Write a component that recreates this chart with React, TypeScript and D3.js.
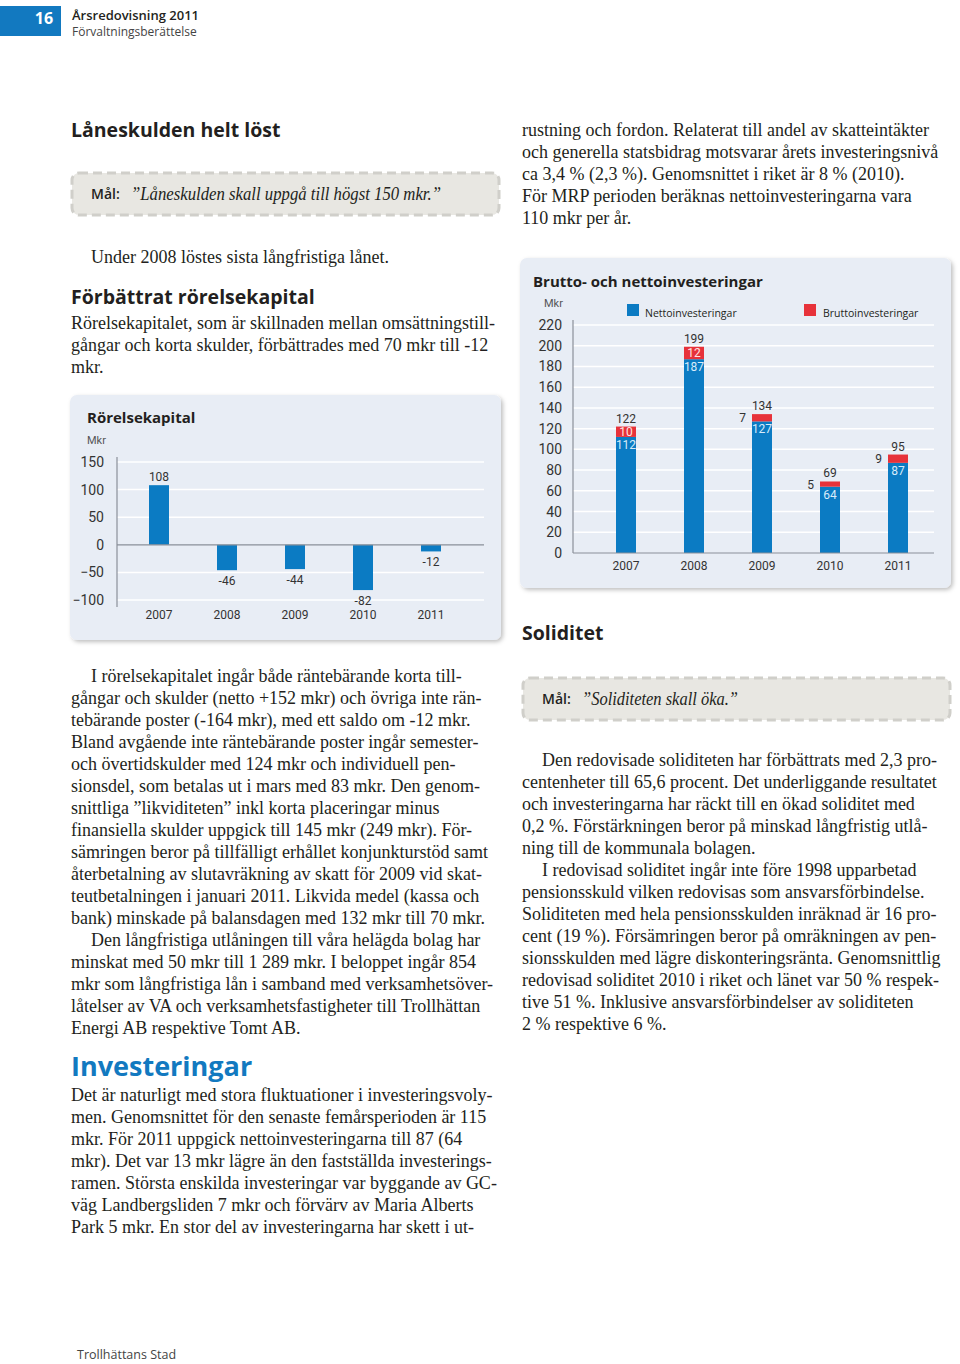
import React from "react";
import * as d3 from "d3";

// ---------- Data ----------
const rkYears = ["2007", "2008", "2009", "2010", "2011"];
const rkValues = [108, -46, -44, -82, -12];
const rkTicks = [150, 100, 50, 0, -50, -100];

const invYears = ["2007", "2008", "2009", "2010", "2011"];
const invNet = [112, 187, 127, 64, 87];
const invGrossDiff = [10, 12, 7, 5, 9];
const invGrossTotal = [122, 199, 134, 69, 95];
const invTicks = [0, 20, 40, 60, 80, 100, 120, 140, 160, 180, 200, 220];

const rightTopLines = [
  "rustning och fordon. Relaterat till andel av skatteintäkter",
  "och generella statsbidrag motsvarar årets investeringsnivå",
  "ca 3,4 % (2,3 %).  Genomsnittet i riket är 8 % (2010).",
  "För MRP perioden beräknas nettoinvesteringarna vara",
  "110 mkr per år.",
];
const rkIntroLines = [
  "Rörelsekapitalet, som är skillnaden mellan omsättningstill-",
  "gångar och korta skulder, förbättrades med 70 mkr till -12",
  "mkr.",
];
const leftBodyLines = [
  "I rörelsekapitalet ingår både räntebärande korta till-",
  "gångar och skulder (netto +152 mkr) och övriga inte rän-",
  "tebärande poster (-164 mkr), med ett saldo om -12 mkr.",
  "Bland avgående inte räntebärande poster ingår semester-",
  "och övertidskulder med 124 mkr och individuell pen-",
  "sionsdel, som betalas ut i mars med 83 mkr. Den genom-",
  "snittliga ”likviditeten” inkl korta placeringar minus",
  "finansiella skulder uppgick till 145 mkr (249 mkr). För-",
  "sämringen beror på tillfälligt erhållet konjunkturstöd samt",
  "återbetalning av slutavräkning av skatt för 2009 vid skat-",
  "teutbetalningen i januari 2011.  Likvida medel (kassa och",
  "bank) minskade på balansdagen med 132 mkr till 70 mkr.",
  "Den långfristiga utlåningen till våra helägda bolag har",
  "minskat med 50 mkr till 1 289 mkr. I beloppet ingår 854",
  "mkr som långfristiga lån i samband med verksamhetsöver-",
  "låtelser av VA och verksamhetsfastigheter till Trollhättan",
  "Energi AB respektive Tomt AB.",
];
const leftBodyIndent = [0, 12];
const invLines = [
  "Det är naturligt med stora fluktuationer i investeringsvoly-",
  "men. Genomsnittet för den senaste femårsperioden är 115",
  "mkr. För 2011 uppgick nettoinvesteringarna till 87 (64",
  "mkr). Det var 13 mkr lägre än den fastställda investerings-",
  "ramen. Största enskilda investeringar var byggande av GC-",
  "väg Landbergsliden 7 mkr och förvärv av Maria Alberts",
  "Park 5 mkr. En stor del av investeringarna har skett i ut-",
];
const solLines = [
  "Den redovisade soliditeten har förbättrats med 2,3 pro-",
  "centenheter till 65,6 procent. Det underliggande resultatet",
  "och investeringarna har räckt till en ökad soliditet med",
  "0,2 %. Förstärkningen beror på minskad långfristig utlå-",
  "ning till de kommunala bolagen.",
  "I redovisad soliditet ingår inte före 1998 upparbetad",
  "pensionsskuld vilken redovisas som ansvarsförbindelse.",
  "Soliditeten med hela pensionsskulden inräknad är 16 pro-",
  "cent (19 %). Försämringen beror på omräkningen av pen-",
  "sionsskulden med lägre diskonteringsränta. Genomsnittlig",
  "redovisad soliditet 2010 i riket och länet var 50 % respek-",
  "tive 51 %. Inklusive ansvarsförbindelser av soliditeten",
  "2 % respektive 6 %.",
];
const solIndent = [0, 5];

// ---------- Styles ----------
const SERIF = "'Liberation Serif', 'DejaVu Serif', serif";
const SANS = "'Open Sans', 'Noto Sans', sans-serif";
const COND = "'Liberation Sans Narrow', 'Roboto', 'Open Sans', sans-serif";
const BLUE = "#0b7bc3";
const RED = "#e7323a";
const TEXT = "#231f20";
const BOXBG = "#e8edf5";
const LH = 22;

function Para({ lines, x, y, indent = [] as number[], size = 18 }) {
  return (
    <g fontFamily={SERIF} fontSize={size} fill={TEXT}>
      {lines.map((l, i) => (
        <text key={i} x={x + (indent.includes(i) ? 20 : 0)} y={y + i * LH}>
          {l}
        </text>
      ))}
    </g>
  );
}

function MalBox({ x, y, w, h, quote, qLen }) {
  return (
    <g>
      <rect x={x} y={y} width={w} height={h} rx={7} fill="#e8e7e2" stroke="#d0cfca" strokeWidth={3} strokeDasharray="9 5" />
      <text x={x + 19} y={y + h / 2 + 5} fontFamily={SANS} fontWeight={600} fontSize={14} fill={TEXT}>
        Mål:
      </text>
      <text
        x={x + 59}
        y={y + h / 2 + 6}
        fontFamily={SERIF}
        fontStyle="italic"
        fontSize={19}
        fill={TEXT}
        textLength={qLen}
        lengthAdjust="spacingAndGlyphs"
      >
        {quote}
      </text>
    </g>
  );
}

function RkChart() {
  const x = d3.scaleBand().domain(rkYears).range([125, 465]);
  const y = d3.scaleLinear().domain([-100, 150]).range([600, 462]);
  const fmt = d3.format("d");
  const bw = 20;
  return (
    <g>
      <rect x={70} y={395} width={431} height={245} rx={7} fill={BOXBG} filter="url(#shadow)" />
      <text x={87} y={423} fontFamily={SANS} fontWeight={700} fontSize={15} fill={TEXT}>Rörelsekapital</text>
      <text x={87} y={444} fontFamily={COND} fontSize={11} fill="#555">Mkr</text>
      {rkTicks.map((t) => (
        <g key={t}>
          {t !== 0 && <line x1={117} x2={484} y1={y(t)} y2={y(t)} stroke="#fff" strokeWidth={1.5} />}
          <text x={104} y={y(t) + 5} textAnchor="end" fontFamily={COND} fontSize={14} fill="#333">
            {fmt(t)}
          </text>
        </g>
      ))}
      {rkValues.map((v, i) => {
        const cx = x(rkYears[i])! + x.bandwidth() / 2;
        return (
          <g key={i}>
            <rect x={cx - bw / 2} y={Math.min(y(v), y(0))} width={bw} height={Math.abs(y(v) - y(0))} fill={BLUE} />
            <text x={cx} y={v >= 0 ? y(v) - 4 : y(v) + 15} textAnchor="middle" fontFamily={COND} fontSize={12} fill="#333">
              {v}
            </text>
            <text x={cx} y={619} textAnchor="middle" fontFamily={COND} fontSize={12} fill="#333">
              {rkYears[i]}
            </text>
          </g>
        );
      })}
      <line x1={117} x2={484} y1={y(0)} y2={y(0)} stroke="#8a8f99" strokeWidth={1.2} />
      <line x1={117} x2={117} y1={457} y2={607} stroke="#8a8f99" strokeWidth={1.2} />
    </g>
  );
}

function InvChart() {
  const x = d3.scaleBand().domain(invYears).range([592, 932]);
  const y = d3.scaleLinear().domain([0, 220]).range([553, 325]);
  const bw = 20;
  return (
    <g>
      <rect x={520} y={258} width={431} height={330} rx={7} fill={BOXBG} filter="url(#shadow)" />
      <text x={533} y={287} fontFamily={SANS} fontWeight={700} fontSize={15} fill={TEXT}>Brutto- och nettoinvesteringar</text>
      <text x={544} y={307} fontFamily={COND} fontSize={11} fill="#555">Mkr</text>
      <rect x={627} y={304} width={12} height={12} fill={BLUE} />
      <text x={645} y={317} fontFamily={SANS} fontSize={10.5} fill={TEXT}>Nettoinvesteringar</text>
      <rect x={804} y={304} width={12} height={12} fill={RED} />
      <text x={823} y={317} fontFamily={SANS} fontSize={10.5} fill={TEXT}>Bruttoinvesteringar</text>
      {invTicks.map((t) => (
        <g key={t}>
          {t !== 0 && <line x1={573} x2={934} y1={y(t)} y2={y(t)} stroke="#fff" strokeWidth={1.5} />}
          <text x={562} y={y(t) + 5} textAnchor="end" fontFamily={COND} fontSize={14} fill="#333">
            {t}
          </text>
        </g>
      ))}
      {invNet.map((n, i) => {
        const cx = x(invYears[i])! + x.bandwidth() / 2;
        const tot = invGrossTotal[i];
        const d = invGrossDiff[i];
        const inside = d >= 10;
        return (
          <g key={i}>
            <rect x={cx - bw / 2} y={y(n)} width={bw} height={y(0) - y(n)} fill={BLUE} />
            <rect x={cx - bw / 2} y={y(tot)} width={bw} height={y(n) - y(tot)} fill={RED} />
            <text x={cx} y={y(n) + 12} textAnchor="middle" fontFamily={COND} fontSize={12} fill="#d8ecfa">{n}</text>
            <text
              x={inside ? cx : cx - bw / 2 - 6}
              y={(y(n) + y(tot)) / 2 + 4.5}
              textAnchor={inside ? "middle" : "end"}
              fontFamily={COND}
              fontSize={12}
              fill={inside ? "#ffe3e3" : "#333"}
            >
              {d}
            </text>
            <text x={cx} y={y(tot) - 4} textAnchor="middle" fontFamily={COND} fontSize={12} fill="#333">{tot}</text>
            <text x={cx} y={570} textAnchor="middle" fontFamily={COND} fontSize={12} fill="#333">{invYears[i]}</text>
          </g>
        );
      })}
      <line x1={573} x2={934} y1={y(0)} y2={y(0)} stroke="#8a8f99" strokeWidth={1.2} />
      <line x1={573} x2={573} y1={320} y2={553} stroke="#8a8f99" strokeWidth={1.2} />
    </g>
  );
}

export default function App() {
  return (
    <svg
      width={960}
      height={1364}
      viewBox="0 0 960 1364"
      style={{ position: "absolute", left: 0, top: 0, background: "#fff" }}
    >
      <defs>
        <filter id="shadow" x="-5%" y="-5%" width="115%" height="115%">
          <feDropShadow dx={2} dy={2} stdDeviation={2} floodColor="#000" floodOpacity={0.25} />
        </filter>
      </defs>
      <rect x={0} y={0} width={960} height={1364} fill="#fff" />

      {/* Header */}
      <rect x={0} y={6} width={61} height={30} fill="#1279c0" />
      <text x={44} y={24} textAnchor="middle" fontFamily={SANS} fontWeight={700} fontSize={16} fill="#fff">16</text>
      <text x={72} y={20} fontFamily={SANS} fontWeight={600} fontSize={13} fill={TEXT}>Årsredovisning 2011</text>
      <text x={72} y={36} fontFamily={SANS} fontSize={12} fill="#444">Förvaltningsberättelse</text>

      {/* Left column */}
      <text x={71} y={137} fontFamily={SANS} fontWeight={700} fontSize={19.5} fill={TEXT}>Låneskulden helt löst</text>
      <MalBox x={72} y={173} w={427} h={42} quote="”Låneskulden skall uppgå till högst 150 mkr.”" qLen={310} />
      <Para lines={["Under 2008 löstes sista långfristiga lånet."]} x={71} y={263} indent={[0]} />
      <text x={71} y={304} fontFamily={SANS} fontWeight={700} fontSize={19.5} fill={TEXT}>Förbättrat rörelsekapital</text>
      <Para lines={rkIntroLines} x={71} y={329} />

      <RkChart />

      <Para lines={leftBodyLines} x={71} y={682} indent={leftBodyIndent} />
      <text x={71} y={1076} fontFamily={SANS} fontWeight={700} fontSize={27} fill="#1279c0">Investeringar</text>
      <Para lines={invLines} x={71} y={1101} />

      {/* Right column */}
      <Para lines={rightTopLines} x={522} y={136} />
      <InvChart />
      <text x={522} y={640} fontFamily={SANS} fontWeight={700} fontSize={19.5} fill={TEXT}>Soliditet</text>
      <MalBox x={523} y={678} w={427} h={42} quote="”Soliditeten skall öka.”" qLen={156} />
      <Para lines={solLines} x={522} y={766} indent={solIndent} />

      {/* Footer */}
      <text x={77} y={1359} fontFamily={SANS} fontSize={12.5} fill="#444">Trollhättans Stad</text>
    </svg>
  );
}
